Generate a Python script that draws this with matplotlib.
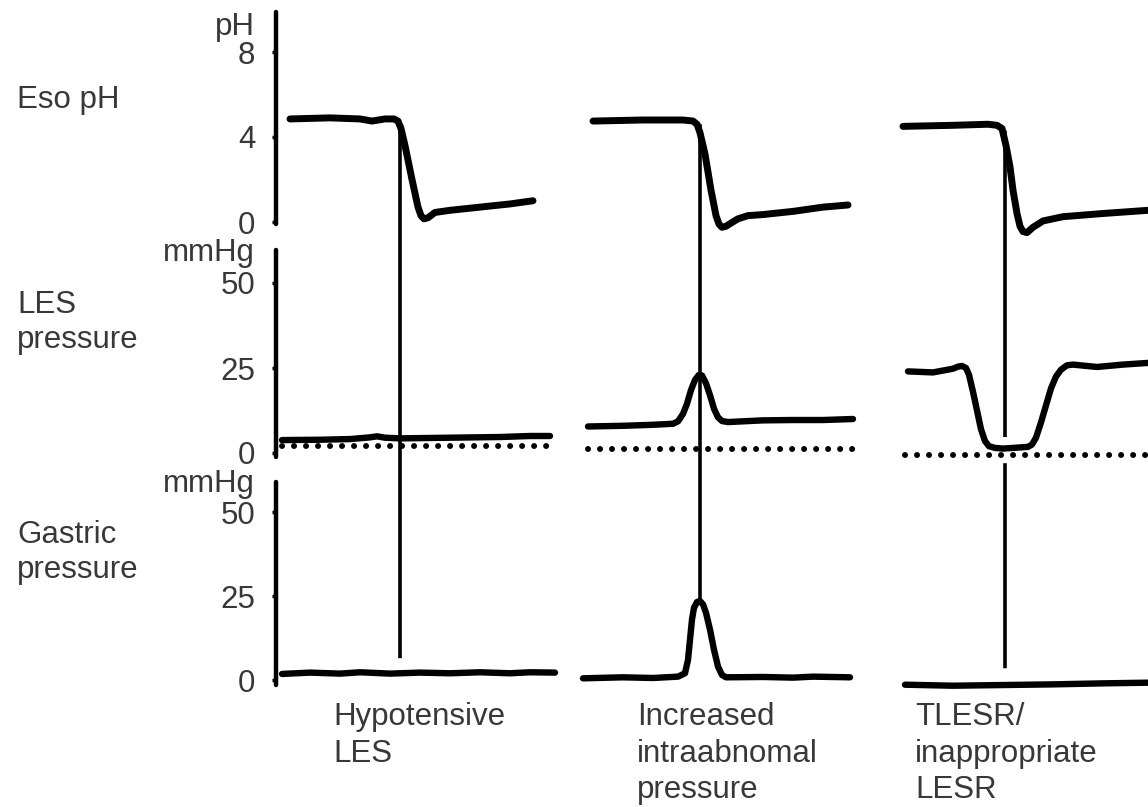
import matplotlib
matplotlib.use("Agg")
import matplotlib.pyplot as plt
from matplotlib.patches import ConnectionPatch
import numpy as np

plt.rcParams['font.family'] = ['Liberation Sans', 'DejaVu Sans']

# ---------------- data (time in local units, value in pH / mmHg) ----------------
row_labels = [["Eso pH"], ["LES", "pressure"], ["Gastric", "pressure"]]
unit_labels = ["pH", "mmHg", "mmHg"]
ph_ticks = [0, 4, 8]
pressure_ticks = [0, 25, 50]
col_labels = [["Hypotensive", "LES"],
              ["Increased", "intraabnomal", "pressure"],
              ["TLESR/", "inappropriate", "LESR"]]

# column 1: hypotensive LES
c1_ph_t = [0, 4.0, 7.0, 8.2, 9.5, 10.4, 10.8, 11.1, 11.5, 12.2, 12.8, 13.1, 13.4, 13.8, 14.5, 16, 19, 22, 24.3]
c1_ph_v = [4.85, 4.9, 4.85, 4.75, 4.85, 4.85, 4.75, 4.4, 3.6, 2.0, 0.7, 0.3, 0.15, 0.2, 0.45, 0.55, 0.7, 0.85, 1.0]
c1_les_t = [-0.8, 3, 6, 8.0, 8.7, 9.5, 11, 16, 21, 24, 26]
c1_les_v = [3.8, 3.9, 4.1, 4.6, 4.9, 4.5, 4.3, 4.5, 4.7, 5.0, 5.0]
c1_base_t = [-0.8, 26]
c1_base_v = [2.2, 2.2]
c1_gas_t = [-0.8, 2, 5, 7, 10, 13, 16, 19, 22, 24, 26.5]
c1_gas_v = [1.8, 2.2, 1.9, 2.3, 1.9, 2.2, 2.0, 2.3, 2.0, 2.3, 2.2]

# column 2: increased intra-abdominal pressure
c2_ph_t = [0, 5, 9, 10.0, 10.4, 10.7, 11.2, 11.8, 12.3, 12.6, 12.9, 13.3, 13.8, 14.5, 15.5, 17, 20, 23, 25.5]
c2_ph_v = [4.75, 4.8, 4.8, 4.75, 4.6, 4.2, 3.2, 1.5, 0.3, -0.1, -0.25, -0.2, -0.05, 0.15, 0.3, 0.35, 0.5, 0.7, 0.8]
c2_les_t = [-0.5, 3, 6, 8, 8.5, 9.0, 9.4, 9.8, 10.2, 10.6, 10.9, 11.3, 11.7, 12.1, 12.5, 12.9, 13.5, 17, 20, 23, 26]
c2_les_v = [7.8, 8.0, 8.3, 8.6, 9.3, 11.5, 14.5, 18.5, 21.5, 23.0, 22.8, 20.5, 17.0, 13.0, 10.5, 9.4, 9.1, 9.6, 9.7, 9.7, 10.0]
c2_base_t = [-0.5, 26]
c2_base_v = [1.2, 1.2]
c2_gas_t = [-1, 3, 6, 8.5, 9.2, 9.5, 9.7, 9.9, 10.1, 10.4, 10.7, 11.0, 11.3, 11.7, 12.1, 12.5, 12.9, 13.3, 17, 20, 22, 25.7]
c2_gas_v = [0.5, 0.8, 0.6, 1.0, 2.0, 6.0, 12.0, 18.0, 21.5, 23.2, 23.5, 22.5, 20.0, 15.0, 9.0, 4.0, 1.5, 0.8, 0.9, 0.7, 1.0, 0.8]

# column 3: TLESR / inappropriate LESR
c3_ph_t = [0, 5, 8.5, 9.4, 9.9, 10.3, 10.7, 11.0, 11.4, 11.7, 12.0, 12.4, 13, 14, 16, 20, 24.5]
c3_ph_v = [4.5, 4.55, 4.6, 4.55, 4.4, 3.6, 2.6, 1.5, 0.4, -0.2, -0.45, -0.5, -0.25, 0.05, 0.25, 0.4, 0.55]
c3_les_t = [0.5, 3, 5.0, 5.5, 5.9, 6.3, 6.6, 7.0, 7.4, 7.8, 8.2, 8.6, 9.2, 10, 11, 12.5, 12.9, 13.3, 13.8, 14.3, 14.8, 15.3, 15.8, 16.4, 17.0, 19.4, 22, 24.5]
c3_les_v = [24, 23.7, 24.8, 25.4, 25.6, 25.0, 23.0, 18.0, 12.5, 7.0, 3.5, 2.0, 1.5, 1.3, 1.5, 1.8, 2.5, 4.5, 9.0, 14.0, 19.0, 22.5, 24.5, 25.8, 26.0, 25.3, 26.0, 26.5]
c3_base_t = [0.2, 24.5]
c3_base_v = [-0.6, -0.6]
c3_gas_t = [0.2, 5, 10, 15, 20, 24.5]
c3_gas_v = [-1.4, -1.7, -1.5, -1.3, -1.0, -0.8]

# vertical event markers: (time, pH start, gastric end) ; col 3 interrupted at LES level
c1_event = (11.0, 4.7, 6.5)
c2_event = (10.7, 4.6, 23.0)
c3_event = (10.2, 4.3, 4.7, -3.0, 3.5)

columns = [
    dict(ph=(c1_ph_t, c1_ph_v), les=(c1_les_t, c1_les_v), base=(c1_base_t, c1_base_v), gas=(c1_gas_t, c1_gas_v)),
    dict(ph=(c2_ph_t, c2_ph_v), les=(c2_les_t, c2_les_v), base=(c2_base_t, c2_base_v), gas=(c2_gas_t, c2_gas_v)),
    dict(ph=(c3_ph_t, c3_ph_v), les=(c3_les_t, c3_les_v), base=(c3_base_t, c3_base_v), gas=(c3_gas_t, c3_gas_v)),
]

# ---------------- layout (pixels) ----------------
W, H = 1148, 807
fig = plt.figure(figsize=(W / 100, H / 100), dpi=100)
fig.patch.set_facecolor('white')

col_offsets = [1.4, 31.7, 62.7]
spine_x = 276
x_max_units = (W - spine_x) / 10.0
TXT = '#383838'
FS = 22.5

# (zero_px, px_per_unit, axes_top, axes_bottom, spine_top, spine_bottom)
panels = [
    (222, 21.25, 0, 240, 12, 224),
    (453, 3.4, 240, 470, 250, 457),
    (680, 3.36, 470, 705, 482, 685),
]
tick_sets = [ph_ticks, pressure_ticks, pressure_ticks]
unit_baselines = [35, 261, 492]

axes = []
for (zp, ppu, at, ab, st, sb), ticks in zip(panels, tick_sets):
    ax = fig.add_axes([spine_x / W, 1 - ab / H, (W - spine_x) / W, (ab - at) / H])
    ax.set_facecolor('none')
    ax.set_xlim(0, x_max_units)
    ax.set_ylim((zp - ab) / ppu, (zp - at) / ppu)
    for s in ['top', 'right', 'bottom']:
        ax.spines[s].set_visible(False)
    ax.spines['left'].set_linewidth(3.2)
    ax.spines['left'].set_capstyle('round')
    ax.spines['left'].set_bounds((zp - sb) / ppu, (zp - st) / ppu)
    ax.xaxis.set_visible(False)
    ax.set_yticks(ticks)
    ax.set_yticklabels([str(t) for t in ticks])
    ax.tick_params(axis='y', length=3, width=2.5, pad=12, labelsize=FS, labelcolor=TXT)
    axes.append(ax)
ax_ph, ax_les, ax_gas = axes

# unit labels
for lab, yb in zip(unit_labels, unit_baselines):
    fig.text(255 / W, 1 - yb / H, lab, ha='right', va='baseline', fontsize=FS, color=TXT)

# row labels
row_baselines = [[108], [313, 348], [543, 578]]
for lines, ybs in zip(row_labels, row_baselines):
    for s, yb in zip(lines, ybs):
        fig.text(17 / W, 1 - yb / H, s, ha='left', va='baseline', fontsize=FS, color=TXT)

# column labels
col_label_x = [333, 637, 915]
col_label_baselines = [725, 762, 798]
for lines, xl in zip(col_labels, col_label_x):
    for s, yb in zip(lines, col_label_baselines):
        fig.text(xl / W, 1 - yb / H, s, ha='left', va='baseline', fontsize=FS, color=TXT)

# traces
trace_kw = dict(color='black', solid_capstyle='round', solid_joinstyle='round', clip_on=False)
for col, off in zip(columns, col_offsets):
    t, v = col['ph']
    ax_ph.plot(np.array(t) + off, v, lw=5.0, **trace_kw)
    t, v = col['les']
    ax_les.plot(np.array(t) + off, v, lw=4.6, **trace_kw)
    t, v = col['gas']
    ax_gas.plot(np.array(t) + off, v, lw=4.6, **trace_kw)
    t, v = col['base']
    ax_les.plot(np.array(t) + off, v, color='black', lw=4.3, linestyle=(0, (0.01, 2.0)),
                dash_capstyle='round', clip_on=False)

# vertical event lines
def vline(ax_a, ya, ax_b, yb, x):
    con = ConnectionPatch(xyA=(x, ya), coordsA=ax_a.transData,
                          xyB=(x, yb), coordsB=ax_b.transData,
                          color='black', lw=2.6, capstyle='butt')
    fig.add_artist(con)

t, a, b = c1_event
vline(ax_ph, a, ax_gas, b, t + col_offsets[0])
t, a, b = c2_event
vline(ax_ph, a, ax_gas, b, t + col_offsets[1])
t, a, b, c, d = c3_event
vline(ax_ph, a, ax_les, b, t + col_offsets[2])
vline(ax_les, c, ax_gas, d, t + col_offsets[2])

fig.savefig('out.png', dpi=100, facecolor='white')
